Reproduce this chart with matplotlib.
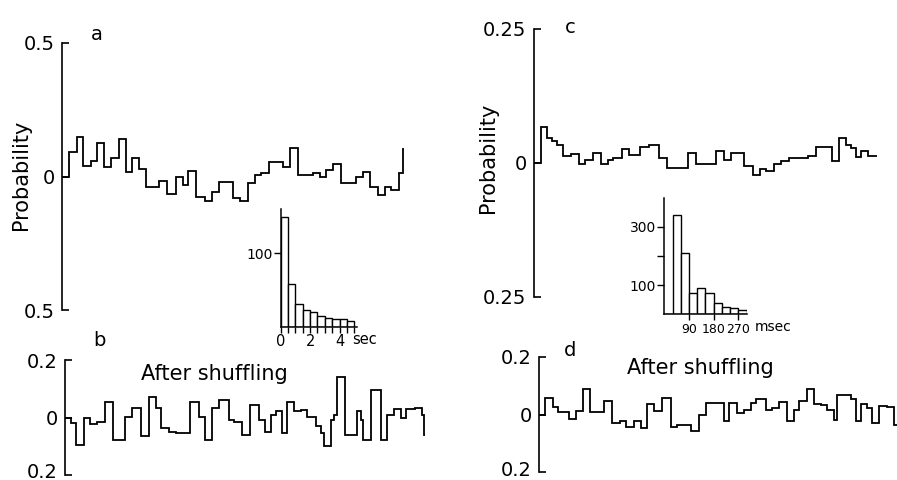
import numpy as np
import matplotlib
matplotlib.use("Agg")
import matplotlib.pyplot as plt
import matplotlib.transforms as mtransforms

# ---------------- data ----------------
# panel a: step edges (lag, arbitrary units) and probability values
a_edges = [0, 7, 14.7, 21, 28.7, 35.3, 41.7, 49.3, 57, 64.3,
           70.3, 77, 84.3, 96.7, 105, 114, 121.3, 126.3, 134.3, 142.7,
           150.3, 157.3, 171, 177.7, 185.7, 192.7, 199.3, 207, 221.3, 227.7,
           235.7, 251, 257.7, 264.3, 271, 279, 294, 300.7, 307.7, 316,
           322.7, 329.3, 337, 341, 342.3]
a_prob = [0, 0.091, 0.147, 0.04, 0.06, 0.125, 0.037, 0.07, 0.14, 0.017,
          0.07, 0.03, -0.04, -0.017, -0.066, 0, -0.03, 0.022, -0.075, -0.09,
          -0.058, -0.02, -0.08, -0.092, -0.025, 0.007, 0.015, 0.056, 0.037, 0.107,
          0.007, 0.012, 0, 0.025, 0.047, -0.025, 0, 0.016, -0.04, -0.069,
          -0.037, -0.05, 0.015, 0.103]

# panel b (after shuffling)
b_edges = [0, 6, 11, 19, 25.7, 32, 40, 48.3, 60.7, 67.7,
           76, 84.7, 91, 96, 104, 111, 125.7, 134.3, 140.3, 147.7,
           154, 164.3, 169.3, 177.7, 185.7, 194.3, 200.7, 206, 211.3, 217,
           222.3, 229.3, 236, 242.3, 251, 256, 259.3, 266, 269.7, 272.7,
           280.3, 292.3, 296.7, 298.3, 306.7, 316, 322.7, 329.3, 336, 341.7,
           350, 357, 359.3, 360.3]
b_prob = [0, -0.02, -0.095, -0.003, -0.022, -0.014, 0.055, -0.077, 0.003, 0.032,
          -0.066, 0.07, 0.032, -0.037, -0.049, -0.054, 0.055, 0.003, -0.077, 0.032,
          0.061, -0.008, -0.014, -0.06, 0.044, -0.008, -0.049, 0.009, 0.021, -0.054,
          0.055, 0.021, 0.026, 0.003, -0.031, -0.054, -0.098, -0.008, 0.009, 0.142,
          -0.06, 0.021, -0.008, -0.077, 0.094, -0.077, 0.009, 0.029, -0.002, 0.029,
          0.032, 0.01, -0.06]

# panel c
c_edges = [0, 7.7, 13.7, 18.7, 23.7, 29, 37.3, 45, 51.7, 59,
           67.3, 74, 79.7, 88, 95.7, 106, 115.7, 125, 133.3, 154,
           162.3, 182.3, 190.7, 197.3, 210.7, 219, 226.7, 232.3, 240.7, 247.3,
           255.7, 274, 282.3, 298, 305.7, 312, 317.3, 322, 327.3, 334,
           343.3]
c_prob = [0, 0.067, 0.047, 0.041, 0.033, 0.0125, 0.016, -0.002, 0.006, 0.019,
          -0.002, 0.006, 0.008, 0.025, 0.014, 0.029, 0.033, 0.009, -0.009, 0.019,
          -0.003, 0.022, 0.006, 0.019, -0.006, -0.023, -0.0125, -0.016, -0.002, 0.003,
          0.008, 0.0125, 0.03, 0.003, 0.047, 0.033, 0.028, 0.011, 0.021, 0.0125]

# panel d (after shuffling)
d_edges = [0, 6, 13.7, 18.7, 30, 36.7, 44.3, 51.3, 65, 73.3,
           80.7, 86.7, 95, 101.7, 108.3, 115, 122.7, 131.7, 138.3, 151.7,
           160, 166.7, 185, 190, 198.3, 205, 211.7, 216.7, 226.7, 233.3,
           240, 247.7, 255, 260, 268.3, 275, 281.7, 288.3, 295, 298,
           311.7, 316.7, 321.7, 328, 333.3, 339.7, 348.3, 355, 358]
d_prob = [0, 0.056, 0.026, 0.009, -0.014, 0.012, 0.088, 0.009, 0.047, -0.029,
          -0.021, -0.045, -0.024, -0.047, 0.038, 0.012, 0.059, -0.045, -0.038, -0.056,
          0, 0.041, -0.021, 0.041, 0.006, 0.014, 0.041, 0.053, 0.014, 0.021,
          0.045, -0.021, 0.014, 0.047, 0.088, 0.038, 0.033, 0.014, -0.018, 0.068,
          0.053, -0.021, 0.038, 0.021, -0.029, 0.029, 0.026, -0.035]

# inset histograms
ia_bins = [0, 0.5, 1.0, 1.5, 2.0, 2.5, 3.0, 3.5, 4.0, 4.5, 5.0]          # sec
ia_counts = [149, 58, 30.5, 22.7, 19.6, 14.6, 11.8, 10, 10, 7.7]
ic_bins = [0, 30, 60, 90, 120, 150, 180, 210, 240, 270, 300]             # msec
ic_counts = [0, 340, 208, 74, 89, 72, 37, 26, 20, 14]

ia_xticks = [0, 2, 4]
ia_yticks = [100]
ic_xticks = [90, 180, 270]
ic_yticks = [100, 200, 300]
ic_yticklabels = ["100", "", "300"]

# ---------------- figure ----------------
W, H = 897, 480
fig = plt.figure(figsize=(W / 100, H / 100), dpi=100)
plt.rcParams['font.family'] = ['DejaVu Sans']

def rect(x0, y0, x1, y1):
    return [x0 / W, 1 - y1 / H, (x1 - x0) / W, (y1 - y0) / H]

def ftext(x, y, s, **kw):
    fig.text(x / W, 1 - y / H, s, **kw)

LW = 1.3
def main_axes(r, edges, vals, ylim, labels, bottom_shift=0):
    ax = fig.add_axes(r)
    ax.set_facecolor('none')
    ax.stairs(vals, edges, baseline=None, color='black', lw=LW)
    ax.set_xlim(edges[0], edges[-1])
    ax.set_ylim(-ylim, ylim)
    for s in ('top', 'right', 'bottom'):
        ax.spines[s].set_visible(False)
    ax.spines['left'].set_linewidth(1.2)
    ax.set_xticks([])
    ax.set_yticks([ylim, 0, -ylim])
    ax.set_yticklabels(labels)
    ax.tick_params(axis='y', direction='in', length=5, width=1.2,
                   pad=5, labelsize=14)
    if bottom_shift:
        lab = ax.get_yticklabels()[-1]
        lab.set_transform(lab.get_transform() + mtransforms.ScaledTranslation(
            0, bottom_shift / 100, fig.dpi_scale_trans))
    return ax

axA = main_axes(rect(62, 43, 62 + 342.3, 310.3), a_edges, a_prob, 0.5,
                ["0.5", "0", "0.5"])
axB = main_axes(rect(64.5, 360, 64.5 + 360.3, 475), b_edges, b_prob, 0.2,
                ["0.2", "0", "0.2"], bottom_shift=5)
axC = main_axes(rect(533.5, 28.5, 533.5 + 343.3, 297), c_edges, c_prob, 0.25,
                ["0.25", "0", "0.25"])
axD = main_axes(rect(539, 357, 539 + 358, 472), d_edges, d_prob, 0.2,
                ["0.2", "0", "0.2"], bottom_shift=3)

# texts
ftext(21, 175, "Probability", rotation=90, ha='center', va='center', fontsize=15)
ftext(488, 158, "Probability", rotation=90, ha='center', va='center', fontsize=15)
ftext(97, 40, "a", ha='center', va='baseline', fontsize=14)
ftext(99, 346.5, "b", ha='center', va='baseline', fontsize=14)
ftext(570, 33, "c", ha='center', va='baseline', fontsize=14)
ftext(570, 356.5, "d", ha='center', va='baseline', fontsize=14)
ftext(214, 380, "After shuffling", ha='center', va='baseline', fontsize=15)
ftext(700, 374, "After shuffling", ha='center', va='baseline', fontsize=15)

# inset a
ia = fig.add_axes(rect(280.7, 209, 357.2, 326.7))
ia.set_facecolor('none')
ia.bar(ia_bins[:-1], ia_counts, width=np.diff(ia_bins), align='edge',
       facecolor='white', edgecolor='black', lw=1.0)
ia.set_xlim(0, 5.2)
ia.set_ylim(0, 160)
for s in ('top', 'right'):
    ia.spines[s].set_visible(False)
for s in ('left', 'bottom'):
    ia.spines[s].set_linewidth(1.1)
ia.set_xticks(ia_xticks)
ia.set_xticks(ia_bins, minor=True)
ia.set_yticks(ia_yticks)
ia.tick_params(axis='x', which='both', direction='out', length=4, width=1,
               pad=1.5, labelsize=10.5)
ia.tick_params(axis='y', direction='out', length=5, width=1, pad=1, labelsize=10)
ftext(352, 344.5, "sec", ha='left', va='baseline', fontsize=10.5)

# inset c
ic = fig.add_axes(rect(664.3, 198.3, 746.6, 314.2))
ic.set_facecolor('none')
ic.bar(ic_bins[:-1], ic_counts, width=np.diff(ic_bins), align='edge',
       facecolor='white', edgecolor='black', lw=1.0)
ic.set_xlim(0, 300)
ic.set_ylim(0, 397)
for s in ('top', 'right'):
    ic.spines[s].set_visible(False)
for s in ('left', 'bottom'):
    ic.spines[s].set_linewidth(1.1)
ic.set_xticks(ic_xticks)
ic.set_xticklabels([str(v) for v in ic_xticks], fontsize=9)
ic.set_yticks(ic_yticks)
ic.set_yticklabels(ic_yticklabels)
ic.tick_params(axis='x', direction='out', length=4, width=1, pad=2)
ic.tick_params(axis='y', direction='out', length=5, width=1, pad=1, labelsize=10)
ftext(755, 331, "msec", ha='left', va='baseline', fontsize=10)

fig.savefig("out.png", dpi=100)
